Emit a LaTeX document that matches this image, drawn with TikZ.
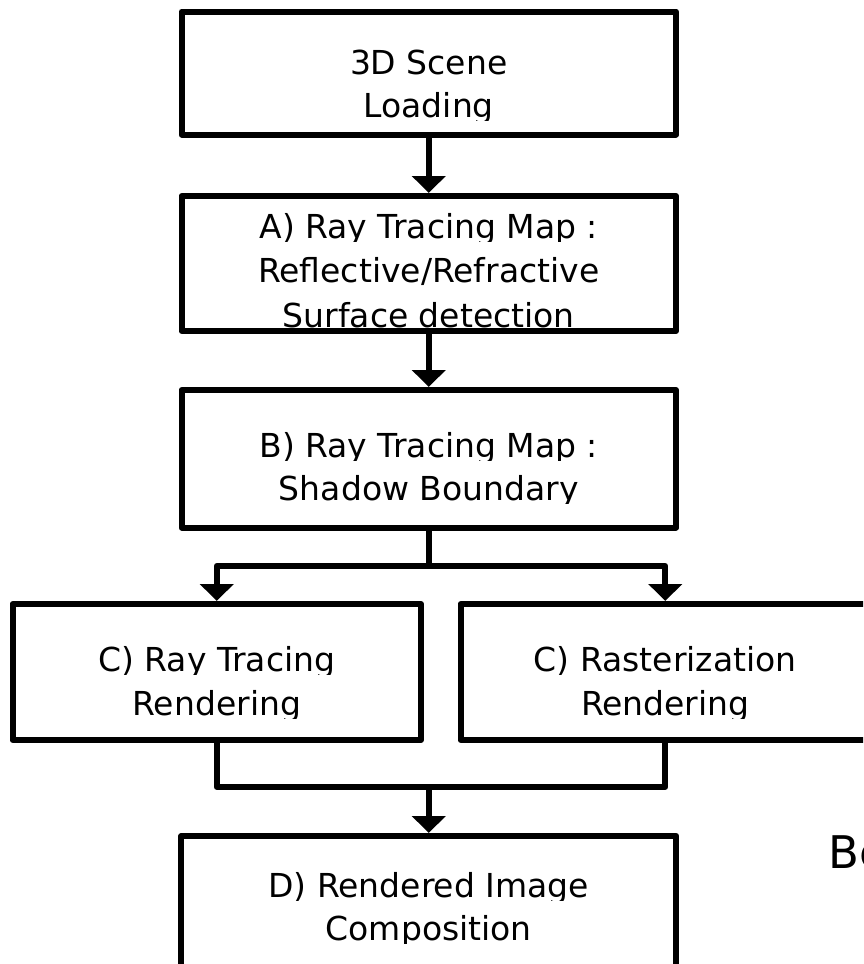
\documentclass[tikz,border=0pt]{standalone}
\usepackage{fontspec}
\setmainfont{DejaVu Sans}
\usetikzlibrary{arrows.meta}
\tikzset{
  box/.style={draw=black, line width=6pt, line join=round, inner sep=0pt},
  conn/.style={draw=black, line width=6pt, line join=round},
  arr/.style={conn, -{Triangle[width=33pt,length=17pt]}},
  txt/.style={inner sep=0pt, font=\fontsize{33}{39}\selectfont},
  bigtxt/.style={inner sep=0pt, font=\fontsize{45}{54}\selectfont}
}
\newcommand{\cliptxt}[4]{%
  \begin{scope}
    \clip ({#2-450},{#3-70}) rectangle ({#2+450},{#3+3});
    \node[txt, anchor=base] (#1) at (#2,#3) {#4};
  \end{scope}}
\begin{document}
\begin{tikzpicture}[x=1pt,y=-1pt]
\useasboundingbox (0,0) rectangle (863,964);
\clip (0,0) rectangle (863,964);

% boxes
\node[box, minimum width=494.5pt, minimum height=123pt] (scene) at (428.75,73) {};
\node[box, minimum width=494.5pt, minimum height=135pt] (mapA) at (428.75,263.5) {};
\node[box, minimum width=494.5pt, minimum height=137.5pt] (mapB) at (428.75,458.75) {};
\node[box, minimum width=408.5pt, minimum height=136pt] (rt) at (216.75,672) {};
\node[box, minimum width=409.5pt, minimum height=136pt] (ras) at (665.25,672) {};
\node[box, minimum width=495pt, minimum height=136pt] (comp) at (428.75,904) {};

% texts
\cliptxt{t1a}{428.75}{74}{3D Scene}
\cliptxt{t1b}{428.75}{117}{Loading}
\cliptxt{tAa}{428.75}{238}{A) Ray Tracing Map :}
\cliptxt{tAb}{428.75}{282}{Reflective/Refractive}
\cliptxt{tAc}{428.75}{327}{Surface detection}
\cliptxt{tBa}{428.75}{457}{B) Ray Tracing Map :}
\cliptxt{tBb}{428.75}{500}{Shadow Boundary}
\cliptxt{tC1a}{216.75}{671}{C) Ray Tracing}
\cliptxt{tC1b}{216.75}{715}{Rendering}
\cliptxt{tC2a}{665.25}{671}{C) Rasterization}
\cliptxt{tC2b}{665.25}{715}{Rendering}
\cliptxt{tDa}{428.75}{897}{D) Rendered Image}
\cliptxt{tDb}{428.75}{940}{Composition}

\node[bigtxt, anchor=base west] (be) at (828,868) {Be};

% connectors
\coordinate (j1) at (428.75,566);
\coordinate (j2) at (428.75,787);
\draw[arr] (scene.south) -- (mapA.north);
\draw[arr] (mapA.south) -- (mapB.north);
\draw[conn] (mapB.south) -- (j1);
\draw[arr] (j1) -| (rt.north);
\draw[arr] (j1) -| (ras.north);
\draw[conn] (rt.south) |- (j2) -| (ras.south);
\draw[arr] (j2) -- (comp.north);
\end{tikzpicture}
\end{document}
